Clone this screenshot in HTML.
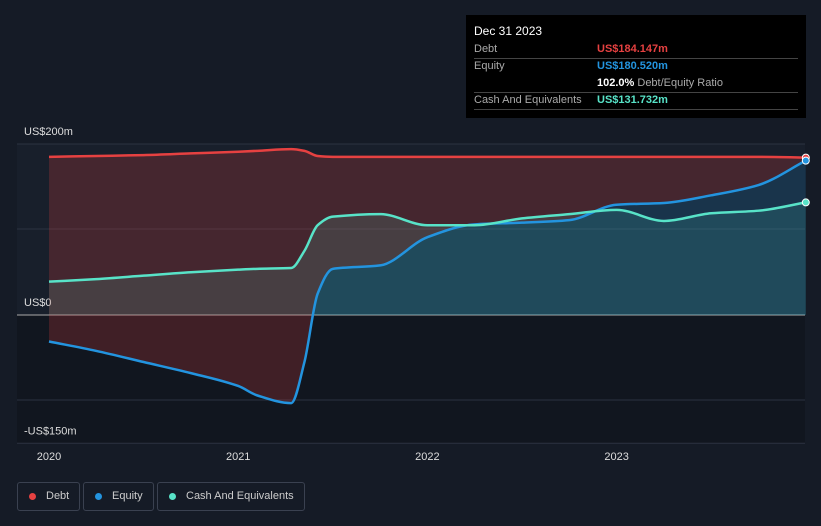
<!DOCTYPE html>
<html><head><meta charset="utf-8"><style>
body{margin:0;background:#151b26;font-family:"Liberation Sans",sans-serif;}
#w{position:relative;width:821px;height:526px;overflow:hidden;background:#151b26}
.tt{position:absolute;left:466px;top:15px;width:340px;height:103px;background:#000;color:#fff;font-size:11px}
.row{position:absolute;left:8px;width:324px;border-bottom:1px solid #444;height:17px;line-height:17px}
.lg{position:absolute;top:482px;height:27px;border:1px solid #3a4150;border-radius:3px;color:#ccc;font-size:11px;line-height:27px;padding:0 10px 0 28px}
.lg i{position:absolute;left:11px;top:10px;width:7px;height:7px;border-radius:50%}
</style></head><body>
<div id="w">
<svg id="s" width="821" height="526" style="position:absolute;left:0;top:0"></svg>
<div class="tt">
<div style="position:absolute;left:8px;top:9px;font-size:12px">Dec 31 2023</div>
<div class="row" style="top:26px"><span style="color:#aaa">Debt</span><span style="position:absolute;left:123px;color:#e64141;font-weight:bold">US$184.147m</span></div>
<div class="row" style="top:43px;border:none"><span style="color:#aaa">Equity</span><span style="position:absolute;left:123px;color:#2394df;font-weight:bold">US$180.520m</span></div>
<div class="row" style="top:60px"><span style="position:absolute;left:123px"><b>102.0%</b> <span style="color:#aaa">Debt/Equity Ratio</span></span></div>
<div class="row" style="top:77px"><span style="color:#aaa">Cash And Equivalents</span><span style="position:absolute;left:123px;color:#58e3c8;font-weight:bold">US$131.732m</span></div>
</div>
<div class="lg" style="left:17px"><i style="background:#e64141"></i>Debt</div>
<div class="lg" style="left:83px"><i style="background:#2394df"></i>Equity</div>
<div class="lg" style="left:157px"><i style="background:#58e3c8"></i>Cash And Equivalents</div>
</div>
<script>
const times=[2020,2020.25,2020.5,2020.75,2021,2021.1,2021.28,2021.35,2021.42,2021.5,2021.75,2022,2022.25,2022.5,2022.75,2023,2023.25,2023.5,2023.75,2024];
const debt=[185,186,187,189,191,192,194,192,186,185,185,185,185,185,185,185,185,185,185,184.1];
const equity=[-31,-42,-55,-68,-83,-94,-103,-55,25,54,58,91,106,108,111,129,131,140,152,180.5];
const cash=[39,42,46,50,53,54,55,75,105,115,118,105,105,113,118,123,110,119,122,131.7];
const yTicks=[200,0,-150];
const yLabels=["US$200m","US$0","-US$150m"];
const xTicks=[2020,2021,2022,2023];
const X=t=>49+(t-2020)*189.2, Y=v=>315-v*0.855;
const s=document.getElementById('s');const NS='http://www.w3.org/2000/svg';
function el(n,a,name){const e=document.createElementNS(NS,n);for(const k in a)e.setAttribute(k,a[k]);


s.appendChild(e);return e;}
function curve(vals,rev){let p=vals.map((v,i)=>[X(times[i]),Y(v)]);const n=p.length;
const d=[],m=[];for(let i=0;i<n-1;i++)d.push((p[i+1][1]-p[i][1])/(p[i+1][0]-p[i][0]));
for(let i=0;i<n;i++){if(i==0)m.push(d[0]);else if(i==n-1)m.push(d[n-2]);else m.push(d[i-1]*d[i]<=0?0:2/(1/d[i-1]+1/d[i]));}
let idx=[...Array(n).keys()];if(rev)idx.reverse();
let out=(rev?'L':'M')+p[idx[0]];
for(let k=0;k<n-1;k++){const i=idx[k],j=idx[k+1];const h=(p[j][0]-p[i][0])/3;
out+=` C${p[i][0]+h},${p[i][1]+m[i]*h} ${p[j][0]-h},${p[j][1]-m[j]*h} ${p[j][0]},${p[j][1]}`;}return out;}
el('rect',{x:17,y:144,width:788,height:299,fill:'#181f2b'},'plot-area');
el('rect',{x:17,y:315,width:788,height:128,fill:'#11161f'},'negative-region');
yTicks.forEach((v,i)=>{el('line',{x1:17,x2:805,y1:Y(v),y2:Y(v),stroke:v==0?'#aaa':'#2c3340','stroke-width':1},'y-gridline');
const t=el('text',{x:24,y:Y(v)-9,fill:'#ddd','font-size':11},'y-tick-label');t.textContent=yLabels[i];});
el('line',{x1:17,x2:805,y1:229,y2:229,stroke:'#2c3340'},'y-gridline');
el('line',{x1:17,x2:805,y1:400,y2:400,stroke:'#2c3340'},'y-gridline');
xTicks.forEach(v=>{const t=el('text',{x:X(v),y:460,fill:'#ddd','font-size':11,'text-anchor':'middle'},'x-tick-label');t.textContent=v;});
const x0=X(2020),x1=X(2024);
el('path',{d:curve(debt)+curve(equity,true)+'Z',fill:'rgba(230,65,65,0.22)'},'debt-area');
const cp=el('clipPath',{id:'pos'},'positive-clip');const r=document.createElementNS(NS,'rect');r.setAttribute('x',0);r.setAttribute('y',0);r.setAttribute('width',821);r.setAttribute('height',Y(0));cp.appendChild(r);
el('path',{d:curve(equity)+`L${x1},${Y(0)}L${x0},${Y(0)}Z`,fill:'rgba(35,148,223,0.18)','clip-path':'url(#pos)'},'equity-area');
el('path',{d:curve(cash)+`L${x1},${Y(0)}L${x0},${Y(0)}Z`,fill:'rgba(88,227,200,0.13)'},'cash-area');
el('path',{d:curve(debt),fill:'none',stroke:'#e64141','stroke-width':2.5},'debt-line');
el('path',{d:curve(equity),fill:'none',stroke:'#2394df','stroke-width':2.5},'equity-line');
el('path',{d:curve(cash),fill:'none',stroke:'#58e3c8','stroke-width':2.5},'cash-line');
[[debt,'#e64141','debt-point'],[equity,'#2394df','equity-point'],[cash,'#58e3c8','cash-point']].forEach(([a,c,n])=>el('circle',{cx:x1,cy:Y(a[a.length-1]),r:3.5,fill:c,stroke:'#fff','stroke-width':1},n));
</script>
</body></html>
